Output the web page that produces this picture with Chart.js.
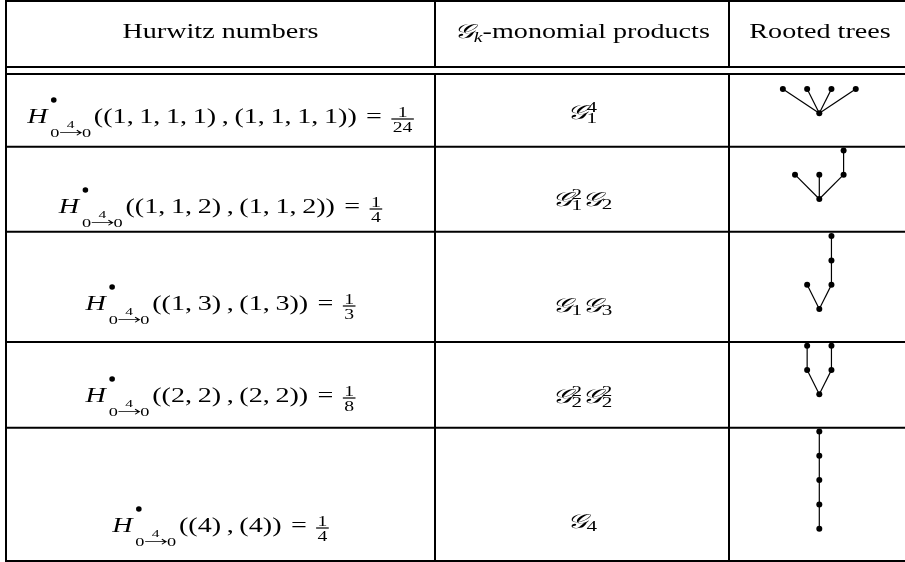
<!DOCTYPE html>
<html>
<head>
<meta charset="utf-8">
<title>Hurwitz numbers and rooted trees</title>
<script src="https://cdn.jsdelivr.net/npm/chart.js@4/dist/chart.umd.min.js"></script>
<style>
  html, body { margin: 0; padding: 0; background: #fff; }
  #wrap { width: 905px; height: 562px; }
</style>
</head>
<body>
<div id="wrap"><canvas id="table-chart" width="905" height="562"></canvas></div>
<script>
// --- data ---
const columnTitles = ['Hurwitz numbers', '-monomial products', 'Rooted trees'];
const hurwitzPartitions = [[1, 1, 1, 1], [1, 1, 2], [1, 3], [2, 2], [4]];
const hurwitzValues = [[1, 24], [1, 4], [1, 3], [1, 8], [1, 4]];
const hurwitzDegree = 4;
// each factor: [index k, power]
const monomialFactors = [
    [[1, 4]],
    [[1, 2], [2, null]],
    [[1, null], [3, null]],
    [[2, 2], [2, 2]],
    [[4, null]]
];
// tree nodes as [offset from root, level above root]; node 0 is the root
const treeNodes = [
    [[0, 0], [-1.5, 1], [-0.5, 1], [0.5, 1], [1.5, 1]],
    [[0, 0], [-1, 1], [0, 1], [1, 1], [1, 2]],
    [[0, 0], [-0.5, 1], [0.5, 1], [0.5, 2], [0.5, 3]],
    [[0, 0], [-0.5, 1], [0.5, 1], [-0.5, 2], [0.5, 2]],
    [[0, 0], [0, 1], [0, 2], [0, 3], [0, 4]]
];
const treeEdges = [
    [[0, 1], [0, 2], [0, 3], [0, 4]],
    [[0, 1], [0, 2], [0, 3], [3, 4]],
    [[0, 1], [0, 2], [2, 3], [3, 4]],
    [[0, 1], [0, 2], [1, 3], [2, 4]],
    [[0, 1], [1, 2], [2, 3], [3, 4]]
];

// --- layout (pixels) ---
const W = 905, H = 562;
const colX = [6, 435, 729, 911];
const headerRules = [1, 67, 74];
const rowRules = [146.7, 231.7, 342, 427.7, 561];
const headerBaseline = 38;
const formulaBaselines = [123, 213, 310, 402, 532];
const monomialBaselines = [119, 206, 312, 403, 528];
const treeRootY = [113.3, 199, 309, 394.3, 528.7];
const TREE_X = 819.3;
const TREE_UNIT = 24.3;
const HEADER_WIDTH = 196; // measured width of the first title

const CAL_G = '\u{1D4A2}';
const fonts = {
    rm: '20px "Liberation Serif"',
    it: 'italic 20px "Liberation Serif"',
    cal: 'italic 20px "Liberation Serif", "DejaVu Serif", "DejaVu Sans", serif',
    sub: '13px "Liberation Serif"',
    frac: '14px "Liberation Serif"',
    tiny: '11px "Liberation Serif"',
    script: '15px "Liberation Serif"',
    scriptIt: 'italic 14px "Liberation Serif"'
};
let stretch = 1;

// tiny box layout helpers
const txt = (t, font, dy = 0) => ({
    w: ctx => { ctx.font = font; return ctx.measureText(t).width; },
    draw: (ctx, x, b) => { ctx.font = font; ctx.fillText(t, x, b + dy); }
});
const gap = px => ({ w: () => px, draw: () => {} });
const row = items => ({
    w: ctx => items.reduce((s, it) => s + it.w(ctx), 0),
    draw: (ctx, x, b) => {
        items.forEach(it => { const w = it.w(ctx); it.draw(ctx, x, b); x += w; });
    }
});
const scripts = (sup, sub, up, down) => ({
    w: ctx => Math.max(sup ? sup.w(ctx) : 0, sub ? sub.w(ctx) : 0),
    draw: (ctx, x, b) => {
        if (sup) sup.draw(ctx, x, b - up);
        if (sub) sub.draw(ctx, x, b + down);
    }
});
const over = (base, label, raise) => ({
    w: ctx => Math.max(base.w(ctx), label.w(ctx)),
    draw: (ctx, x, b) => {
        const w = Math.max(base.w(ctx), label.w(ctx));
        base.draw(ctx, x + (w - base.w(ctx)) / 2, b);
        label.draw(ctx, x + (w - label.w(ctx)) / 2, b - raise);
    }
});
const bullet = (r, raise) => ({
    w: () => 2 * r / stretch + 1,
    draw: (ctx, x, b) => {
        ctx.beginPath();
        ctx.ellipse(x + r / stretch + 0.5, b - raise, r / stretch, r, 0, 0, Math.PI * 2);
        ctx.fill();
    }
});
const arrow = (len, axis) => ({
    w: () => len,
    draw: (ctx, x, b) => {
        const yy = b - axis;
        ctx.save();
        ctx.setTransform(ctx.getTransform());
        ctx.lineWidth = 0.8;
        ctx.beginPath();
        ctx.moveTo(x + 0.5, yy);
        ctx.lineTo(x + len - 0.8, yy);
        ctx.moveTo(x + len - 0.8 - 4 / stretch, yy - 2.6);
        ctx.quadraticCurveTo(x + len - 1.6, yy - 0.6, x + len - 0.6, yy);
        ctx.quadraticCurveTo(x + len - 1.6, yy + 0.6, x + len - 0.8 - 4 / stretch, yy + 2.6);
        ctx.stroke();
        ctx.restore();
    }
});
const frac = (num, den) => ({
    w: ctx => Math.max(num.w(ctx), den.w(ctx)) + 2,
    draw: (ctx, x, b) => {
        const w = Math.max(num.w(ctx), den.w(ctx)) + 2;
        const bar = b - 4;
        ctx.fillRect(x, bar - 0.6, w, 1.2);
        num.draw(ctx, x + (w - num.w(ctx)) / 2, bar - 2.5);
        den.draw(ctx, x + (w - den.w(ctx)) / 2, bar + 12.5);
    }
});

function hurwitzBox(parts, value) {
    const tuple = '(' + parts.join(',\u2009') + ')';
    const sub = row([
        txt('0', fonts.sub),
        over(arrow(16, 4), txt(String(hurwitzDegree), fonts.tiny), 9),
        txt('0', fonts.sub)
    ]);
    return row([
        txt('H', fonts.it),
        gap(2),
        scripts(bullet(2.8, 0), sub, 23, 13.7),
        gap(2),
        txt('(' + tuple + '\u2009,\u2009' + tuple + ')', fonts.rm),
        txt('\u2004=\u2004', fonts.rm),
        frac(txt(String(value[0]), fonts.frac), txt(String(value[1]), fonts.frac))
    ]);
}

function monomialBox(factors) {
    const items = [];
    factors.forEach(([k, p]) => {
        items.push(txt(CAL_G, fonts.cal));
        items.push(scripts(p ? txt(String(p), fonts.script) : null, txt(String(k), fonts.script), 7, p ? 4 : 3));
    });
    return row(items);
}

const headerBoxes = [
    txt(columnTitles[0], fonts.rm),
    row([txt(CAL_G, fonts.cal), scripts(null, txt('k', fonts.scriptIt), 0, 4), txt(columnTitles[1], fonts.rm)]),
    txt(columnTitles[2], fonts.rm)
];

const tablePlugin = {
    id: 'tablePlugin',
    beforeDatasetsDraw(chart) {
        const { ctx, scales: { x, y } } = chart;
        const px = v => x.getPixelForValue(v);
        const py = v => y.getPixelForValue(v);
        ctx.save();
        ctx.strokeStyle = '#000';
        ctx.lineWidth = 2;
        ctx.beginPath();
        headerRules.concat(rowRules).forEach(v => {
            ctx.moveTo(px(colX[0] - 1), py(v));
            ctx.lineTo(px(W), py(v));
        });
        // outer left border
        ctx.moveTo(px(colX[0]), py(0));
        ctx.lineTo(px(colX[0]), py(H));
        // inner separators break between the double rule
        for (let c = 1; c < colX.length; c++) {
            ctx.moveTo(px(colX[c]), py(headerRules[0]));
            ctx.lineTo(px(colX[c]), py(headerRules[1]));
            ctx.moveTo(px(colX[c]), py(headerRules[2]));
            ctx.lineTo(px(colX[c]), py(rowRules[rowRules.length - 1]));
        }
        ctx.stroke();
        ctx.restore();
    },
    afterDatasetsDraw(chart) {
        const { ctx, scales: { x, y } } = chart;
        ctx.save();
        ctx.fillStyle = '#000';
        ctx.strokeStyle = '#000';
        ctx.textAlign = 'left';
        ctx.textBaseline = 'alphabetic';
        ctx.font = fonts.rm;
        stretch = HEADER_WIDTH / ctx.measureText(columnTitles[0]).width;
        const centerOf = c => x.getPixelForValue((colX[c] + colX[c + 1]) / 2);
        const put = (box, cx, base) => {
            const w = box.w(ctx);
            ctx.save();
            ctx.translate(cx - w * stretch / 2, 0);
            ctx.scale(stretch, 1);
            box.draw(ctx, 0, y.getPixelForValue(base));
            ctx.restore();
        };
        headerBoxes.forEach((b, c) => put(b, centerOf(c), headerBaseline));
        hurwitzPartitions.forEach((parts, r) => {
            put(hurwitzBox(parts, hurwitzValues[r]), centerOf(0), formulaBaselines[r]);
            put(monomialBox(monomialFactors[r]), centerOf(1), monomialBaselines[r]);
        });
        ctx.restore();
    }
};

const datasets = [];
treeNodes.forEach((nodes, r) => {
    const pts = nodes.map(([dx, lvl]) => ({ x: TREE_X + dx * TREE_UNIT, y: treeRootY[r] - lvl * TREE_UNIT }));
    treeEdges[r].forEach(([a, b]) => {
        datasets.push({
            data: [pts[a], pts[b]],
            showLine: true,
            borderColor: '#000',
            borderWidth: 1.2,
            pointRadius: 0
        });
    });
    datasets.push({
        data: pts,
        showLine: false,
        pointRadius: 3,
        pointBackgroundColor: '#000',
        pointBorderColor: '#000',
        pointBorderWidth: 0
    });
});

new Chart(document.getElementById('table-chart').getContext('2d'), {
    type: 'scatter',
    data: { datasets: datasets },
    options: {
        responsive: false,
        animation: false,
        layout: { padding: 0, autoPadding: false },
        plugins: {
            legend: { display: false },
            tooltip: { enabled: false }
        },
        scales: {
            x: { type: 'linear', min: 0, max: W, display: false },
            y: { type: 'linear', min: 0, max: H, reverse: true, display: false }
        }
    },
    plugins: [tablePlugin]
});
</script>
</body>
</html>
